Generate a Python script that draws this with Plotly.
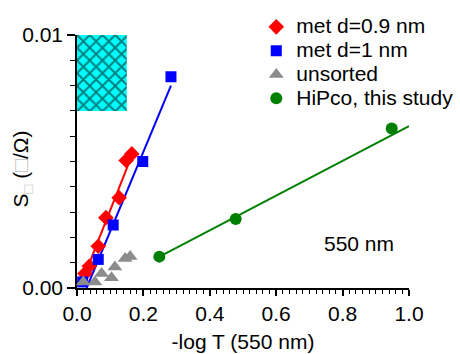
import plotly.graph_objects as go

# ---- data ----
red_x = [0.024, 0.037, 0.064, 0.087, 0.127, 0.148, 0.165]
red_y = [0.00057, 0.00086, 0.00165, 0.00278, 0.00357, 0.00504, 0.00530]

blue_x = [0.017, 0.064, 0.109, 0.198, 0.283]
blue_y = [0.00024, 0.00113, 0.00249, 0.00500, 0.00835]

gray_x = [0.019, 0.054, 0.074, 0.104, 0.114, 0.145, 0.160]
gray_y = [0.00024, 0.00024, 0.00057, 0.00041, 0.00083, 0.00117, 0.00125]

green_x = [0.248, 0.478, 0.948]
green_y = [0.00124, 0.00273, 0.00630]

red_fit_x = [0.019, 0.170]
red_fit_y = [0.00037, 0.00540]
blue_fit_x = [0.029, 0.283]
blue_fit_y = [0.00000, 0.00800]
green_fit_x = [0.25, 1.0]
green_fit_y = [0.00125, 0.00640]

box_x = [0.0, 0.15]
box_y = [0.007, 0.010]

names = ["met d=0.9 nm", "met d=1 nm", "unsorted", "HiPco, this study"]
x_ticks = [0.0, 0.2, 0.4, 0.6, 0.8, 1.0]
y_ticks = [0.0, 0.01]
y_ticktext = ["0.00", "0.01"]

FONT = "Liberation Sans, Arial, sans-serif"
FS = 21

fig = go.Figure()

# hatched box
fig.add_trace(go.Bar(
    x=[(box_x[0] + box_x[1]) / 2], y=[box_y[1] - box_y[0]], base=[box_y[0]],
    width=[box_x[1] - box_x[0]],
    marker=dict(color="#00ffff", line=dict(width=0),
                pattern=dict(shape="x", fgcolor="black", bgcolor="#00ffff",
                             size=9, solidity=0.4)),
    showlegend=False, hoverinfo="skip"))

# fit lines
for fx, fy, c in [(red_fit_x, red_fit_y, "#ff0000"),
                  (blue_fit_x, blue_fit_y, "#0000ff"),
                  (green_fit_x, green_fit_y, "#008000")]:
    fig.add_trace(go.Scatter(x=fx, y=fy, mode="lines",
                             line=dict(color=c, width=2),
                             showlegend=False, hoverinfo="skip"))

def leg(t):
    return f'<span style="font-size:{FS}px">{t}</span>'

fig.add_trace(go.Scatter(x=red_x, y=red_y, mode="markers", name=leg(names[0]),
                         marker=dict(symbol="diamond", size=12, color="#ff0000"),
                         cliponaxis=False))
fig.add_trace(go.Scatter(x=blue_x, y=blue_y, mode="markers", name=leg(names[1]),
                         marker=dict(symbol="square", size=11, color="#0000ff"),
                         cliponaxis=False))
fig.add_trace(go.Scatter(x=gray_x, y=gray_y, mode="markers", name=leg(names[2]),
                         marker=dict(symbol="triangle-up", size=13, color="#8c8c8c"),
                         cliponaxis=False))
fig.add_trace(go.Scatter(x=green_x, y=green_y, mode="markers", name=leg(names[3]),
                         marker=dict(symbol="circle", size=12, color="#008000"),
                         cliponaxis=False))

fig.add_annotation(x=0.849, y=0.00177, xref="x", yref="y", text="550 nm",
                   showarrow=False, font=dict(size=FS, color="black", family=FONT))

fig.add_annotation(
    x=-0.166, y=0.472, xref="paper", yref="paper", textangle=-90,
    text='S<sub><span style="color:#c0c0c0">□</span></sub> (<span style="color:#c0c0c0">□</span>/Ω)',
    showarrow=False, xanchor="center", yanchor="middle",
    font=dict(size=FS, color="black", family=FONT))

fig.update_layout(
    width=460, height=354,
    margin=dict(l=77, r=51, t=35, b=66, autoexpand=False),
    paper_bgcolor="white", plot_bgcolor="white",
    font=dict(family=FONT, size=FS, color="black"),
    showlegend=True,
    legend=dict(x=0.54, y=1.099, xanchor="left", yanchor="top",
                bgcolor="rgba(0,0,0,0)", borderwidth=0,
                font=dict(size=16, family=FONT, color="black")),
    xaxis=dict(range=[0, 1.0], tickvals=x_ticks, tickformat=".1f",
               showgrid=False, zeroline=False, showline=True,
               linecolor="black", linewidth=1.5, ticks="outside",
               ticklen=6, tickwidth=1.5, tickcolor="black",
               minor=dict(dtick=0.02, ticks="outside", ticklen=4,
                          tickwidth=1, tickcolor="black", showgrid=False),
               layer="below traces",
               title=dict(text="-log T (550 nm)", standoff=10,
                          font=dict(size=FS))),
    yaxis=dict(range=[0, 0.01], tickvals=y_ticks, ticktext=y_ticktext,
               showgrid=False, zeroline=False, showline=True,
               linecolor="black", linewidth=1.5, ticks="outside",
               ticklen=8, tickwidth=1.5, tickcolor="black",
               minor=dict(dtick=0.001, ticks="outside", ticklen=5,
                          tickwidth=1, tickcolor="black", showgrid=False),
               layer="below traces"),
)

fig.write_html("out.html")
